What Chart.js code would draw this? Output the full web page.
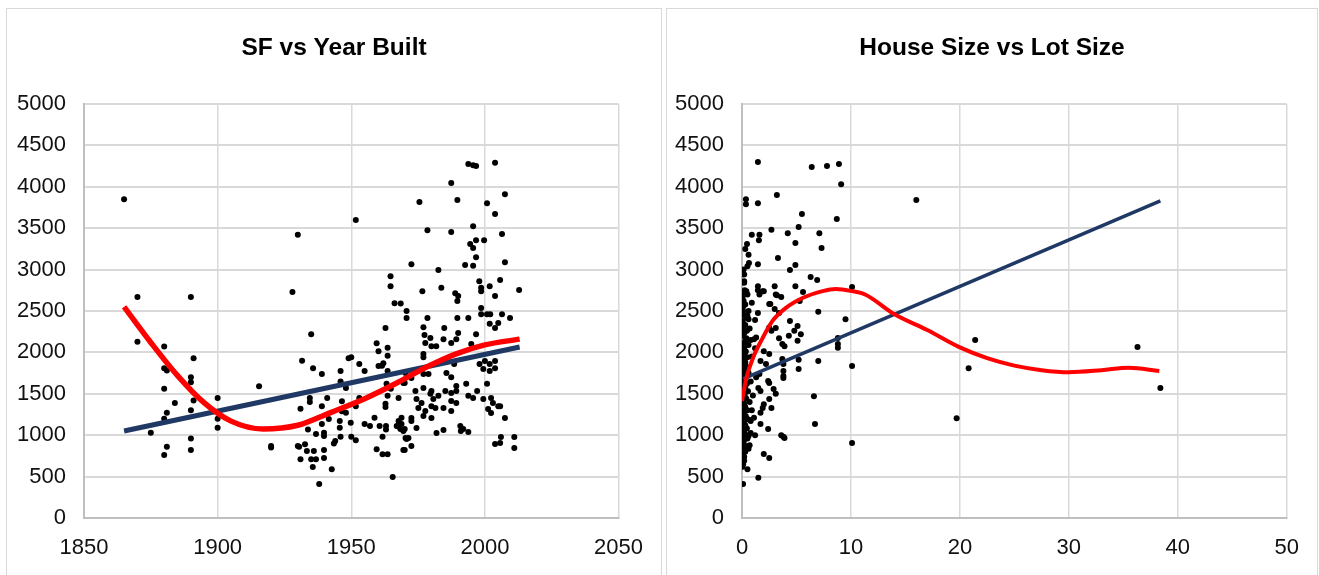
<!DOCTYPE html>
<html>
<head>
<meta charset="utf-8">
<title>SF vs Year Built / House Size vs Lot Size</title>
<script src="https://cdn.jsdelivr.net/npm/chart.js@4.4.1/dist/chart.umd.min.js"></script>
<style>
  body { margin: 0; background: #fff; width: 1319px; height: 575px; overflow: hidden; position: relative; }
  .panel { position: absolute; top: 8px; height: 600px; border: 1px solid #d9d9d9; box-sizing: border-box; }
  .box { position: absolute; left: 1px; top: 1px; height: 566px; }
</style>
</head>
<body>
<div class="panel" style="left:6px; width:656px;"><div class="box" style="width:652px;"><canvas id="yearChart"></canvas></div></div>
<div class="panel" style="left:666px; width:652px;"><div class="box" style="width:648px;"><canvas id="lotChart"></canvas></div></div>
<script>
// ---- data ----
const yTicks = [0, 500, 1000, 1500, 2000, 2500, 3000, 3500, 4000, 4500, 5000];
const yearTicks = [1850, 1900, 1950, 2000, 2050];
const lotTicks = [0, 10, 20, 30, 40, 50];

// [year built, square feet]
const yearPoints = [
  [1865,3850],[1870,2670],[1890,2670],[1928,2730],[1930,3420],
  [1870,2130],[1880,2070],[1880,1810],[1881,1780],[1880,1560],[1884,1390],[1881,1270],[1880,1200],[1875,1030],[1881,860],[1880,760],
  [1891,1930],[1890,1700],[1890,1640],[1891,1420],[1890,1300],[1890,960],[1890,820],
  [1900,1450],[1900,1200],[1900,1090],[1915.5,1590],[1920,870],[1920,850],
  [1935,2220],[1931.6,1900],[1935.7,1810],[1939,1740],[1946,1775],[1949,1930],[1950,1940],[1951.7,3600],[1953,1860],[1955,1775],
  [1946,1650],[1948,1570],[1934.5,1450],[1934.5,1400],[1941,1450],[1939,1350],[1931,1320],[1946.5,1410],[1946.5,1290],[1948,1270],
  [1951.7,1350],[1953,1450],[1933.8,1070],[1939,1135],[1941.6,1195],[1945.7,1170],[1945.7,1090],[1949.8,1150],[1936.8,1015],
  [1939.8,1030],[1939.8,990],[1946,980],[1950,980],[1951.7,940],[1944,930],[1943.5,900],[1930,870],[1930.5,860],[1932.7,890],
  [1933.4,810],[1936,810],[1939.8,820],[1939.8,725],[1931,710],[1935,710],[1936.8,710],[1935.6,615],[1942.7,590],[1938,410],
  [1958.7,1210],[1955,1135],[1957,1110],[1960.6,1110],[1963,1110],[1963,1070],[1961.7,980],[1959.5,830],[1961.7,770],[1963.6,770],
  [1965.5,495],[1967,1110],[1968,1100],[1970,1075],[1970,820],[1970.7,955],[1968.8,1210],[1967.7,1450],[1962.8,1340],[1962.8,1380],
  [1963.6,1475],[1964.8,1560],[1963.2,1620],[1963.6,1775],[1970,1630],[1959.5,2110],[1960.2,2015],[1963.6,2055],[1963.6,1960],
  [1962,1870],[1960.2,1835],[1961.5,1840],[1962.8,2295],[1964.7,2920],[1964.7,2800],[1966.2,2595],[1968.5,2590],[1970.7,2500],[1970.7,2415],
  [1993.8,4275],[1995.6,4260],[1996.7,4250],[2003.8,4290],[1987.4,4045],[1975.5,3815],[1989.7,3840],[2000.8,3800],[2007.5,3910],
  [2003.8,3670],[1978.5,3475],[1987.4,3455],[1995.6,3525],[2006.4,3430],[1994.5,3310],[1995.6,3260],[1996.7,3355],[1999.7,3355],
  [1996.7,3150],[1992.6,3055],[1995.6,3045],[2007.5,3090],[1972.5,3065],[1982.6,2995],[1983.7,2780],[1976.6,2740],[1988.9,2715],
  [1990,2680],[1989.7,2620],[1997.9,2860],[1998.6,2780],[1998.6,2740],[2001.8,2800],[2003.8,2680],[2005.7,2875],[2012.8,2755],
  [1977,2305],[1978.5,2415],[1989.7,2415],[1993.8,2415],[1998.6,2535],[1998.6,2460],[2000.8,2460],[2002,2460],[2001.8,2345],
  [2003.8,2295],[2005,2355],[2006.4,2460],[2009.4,2415],[1984.8,2295],[1996.7,2220],[1990,2235],[1989.3,2160],[1977.4,2210],
  [1979.6,2175],[1977.7,2115],[1980,2075],[1981.8,2075],[1984.5,2160],[1987.4,2115],[1994.9,2100],[1977,1980],[1977,1940],
  [1998,1860],[2000,1895],[2001.8,1860],[2003.8,1895],[1999.4,1800],[2001.8,1775],[2003.8,1810],[1988.5,1860],[1985.6,1750],
  [1987.4,1700],[1970.3,1750],[1972.5,1690],[1977,1740],[1978.9,1740],[1969.5,1630],[1974,1535],[1977,1570],[1980,1535],
  [1979.6,1500],[1982.6,1475],[1985.2,1535],[1987.4,1510],[1989.3,1535],[1989.3,1595],[1993,1620],[1993.8,1475],[1995.6,1450],
  [1997.1,1535],[2000.8,1620],[1999.4,1437],[2002.3,1450],[2003,1390],[2005,1350],[2001.2,1316],[2002.3,1268],[2005.7,1350],
  [2007.5,1208],[1974.4,1437],[1975.1,1330],[1976.3,1390],[1977.7,1292],[1980.7,1437],[1980,1350],[1981.5,1330],[1984.5,1330],
  [1987.4,1413],[1987.4,1292],[1989.3,1390],[1972.5,1208],[1972.5,1170],[1977,1232],[1980,1208],[1967.7,1170],[1968.8,1135],
  [1968.4,1075],[1969.5,1050],[1974.4,1087],[1981.9,1027],[1984.5,1063],[1990.8,1111],[1991.9,1075],[1993.8,1039],[1991,1050],
  [1970.3,966],[1971.4,966],[1972.5,870],[1969.5,821],[2003.8,894],[2005.7,906],[2006,978],[2011,978],[2011,845]
];
const yearLinear = [[1865,1050],[2013,2065]];
const yearPoly = [[1865,2550],[1875,2120],[1885,1720],[1895,1390],[1905,1170],[1917,1075],[1930,1120],[1942,1270],
  [1955,1440],[1967,1630],[1978,1820],[1989,1980],[2000,2090],[2013,2160]];

// [lot size, house square feet]
const lotPoints = [
  [1.46,4300],[6.4,4240],[7.8,4250],[8.9,4275],[9.1,4030],[16.0,3840],[0.36,3850],[0.36,3790],[1.46,3800],[3.2,3900],[5.5,3670],
  [8.7,3610],[5.2,3515],[2.7,3480],[4.2,3440],[7.1,3440],[0.9,3420],[1.6,3420],[0.46,3310],[1.55,3355],[4.9,3320],[7.3,3260],
  [3.3,3140],[0.64,3080],[0.5,3040],[1.46,3065],[4.9,3055],[4.4,2995],[6.3,2910],[6.9,2875],[10.1,2790],[0.2,2840],[0.25,2750],
  [0.5,2700],[0.15,2620],[1.46,2750],[1.9,2740],[3.0,2800],[3.2,2690],[3.6,2670],[4.9,2800],[5.6,2730],[5.3,2620],[2.6,2585],
  [3.0,2525],[3.4,2475],[1.46,2475],[7.0,2490],[9.5,2400],[0.5,2440],[0.6,2400],[1.2,2390],[4.4,2380],
  [0.4,2170],[0.8,2150],[1.1,2160],[1.3,2180],[2.5,2300],[2.7,2260],[3.1,2295],[3.4,2170],[3.7,2100],[3.9,2075],[4.3,2200],
  [4.8,2260],[5.1,2320],[5.4,2220],[5.1,2140],[7.0,1895],[5.2,1910],[8.8,2175],[8.8,2055],[10.1,1835],[10.1,905],[6.6,1470],
  [6.7,1135],[3.7,1920],[3.8,1860],[3.8,1690],[2.0,2015],[2.5,1980],[2.2,1860],[1.7,1895],[1.6,1740],[1.5,1570],[1.7,1535],
  [2.4,1655],[2.5,1630],[2.9,1558],[3.1,1500],[2.5,1437],[2.0,1375],[1.9,1330],[1.7,1270],[2.7,1330],[1.1,1210],[0.8,1170],
  [1.7,1135],[2.4,1075],[0.8,1027],[0.6,990],[3.6,1000],[3.8,980],[0.6,835],[2.0,773],[2.5,725],[0.5,590],[1.5,485],[0.1,410],
  [0.1,650],[0.2,690],[0.2,2860],[0.1,2700],[0.4,2740],[1.46,2800],[1.6,2700],[2.0,2740],[3.1,2700],[2.5,2585],[0.4,2415],
  [0.6,2500],[0.1,2500],[0.1,2350],[0.15,2290],[19.7,1205],[20.8,1810],[21.4,2150],[8.8,2100],[5.2,1800],[3.8,1775],[3.8,1715],
  [3.9,966],[36.3,2065],[38.4,1570],
  [0.05,620],[0.1,700],[0.2,740],[0.05,780],[0.3,800],[0.1,850],[0.4,870],[0.15,900],[0.05,930],[0.25,950],[0.5,960],[0.1,990],
  [0.3,1010],[0.05,1040],[0.2,1060],[0.45,1080],[0.1,1100],[0.3,1120],[0.05,1150],[0.2,1170],[0.6,1190],[0.1,1210],[0.35,1230],
  [0.05,1260],[0.2,1280],[0.5,1300],[0.1,1320],[0.3,1340],[0.05,1360],[0.2,1380],[0.7,1400],[0.1,1420],[0.4,1440],[0.05,1460],
  [0.25,1480],[0.15,1510],[0.55,1530],[0.05,1550],[0.3,1570],[0.1,1600],[0.45,1620],[0.2,1650],[0.05,1680],[0.35,1700],
  [0.1,1730],[0.6,1750],[0.2,1780],[0.05,1800],[0.4,1830],[0.15,1860],[0.3,1880],[0.05,1910],[0.5,1940],[0.2,1960],[0.1,1990],
  [0.35,2010],[0.05,2040],[0.25,2070],[0.6,2090],[0.1,2110],[0.3,2140],[0.05,2200],[0.2,2230],[0.45,2260],[0.1,2300],
  [0.3,2330],[0.05,2380],[0.2,2450],[0.1,2550],[0.3,2580],[0.05,2660],[0.7,2290],[0.9,1950],[0.8,1650],[1.0,1480],[0.9,1300],
  [1.2,1000],[0.7,880],[1.3,1700],[1.2,2050],[0.9,2600],[0.15,3000],[0.6,3180],[0.3,3250],[0.2,2940]
];
const lotLinear = [[0.1,1680],[38.4,3830]];
const lotPoly = [[0,1413],[0.4,1690],[1.0,1930],[1.9,2175],[2.8,2380],[4.0,2535],[5.6,2660],[7.4,2740],[8.6,2765],
  [10.1,2740],[11.3,2700],[14,2460],[17,2270],[20,2060],[22.5,1930],[25,1840],[27.5,1785],[30,1760],[33,1785],[35.5,1815],[38.3,1775]];

const FONT = '"Liberation Sans", Arial, sans-serif';
const toXY = (arr) => arr.map(p => ({ x: p[0], y: p[1] }));

const makeChart = (id, title, points, linear, poly, xTicks, opts) => {
  const fixTicks = (list) => (scale) => { scale.ticks = list.map(v => ({ value: v })); };
  return new Chart(document.getElementById(id), {
    type: 'scatter',
    data: {
      datasets: [
        { type: 'line', data: toXY(poly), borderColor: '#ff0000', borderWidth: opts.poly, pointRadius: 0,
          cubicInterpolationMode: 'monotone', fill: false, order: 0 },
        { type: 'line', data: toXY(linear), borderColor: '#1f3864', borderWidth: opts.lin, pointRadius: 0,
          fill: false, order: 1 },
        { data: toXY(points), backgroundColor: '#000', borderWidth: 0, pointRadius: 3, order: 2 }
      ]
    },
    options: {
      responsive: true,
      maintainAspectRatio: false,
      animation: false,
      devicePixelRatio: 1,
      layout: { padding: 0 },
      plugins: {
        legend: { display: false },
        tooltip: { enabled: false },
        title: {
          display: true, text: title, color: '#000',
          font: { family: FONT, size: 24.5, weight: 'bold', lineHeight: 1.2 },
          padding: { top: 24, bottom: 40.6 }
        }
      },
      scales: {
        x: {
          type: 'linear', min: xTicks[0], max: xTicks[xTicks.length - 1],
          afterBuildTicks: fixTicks(xTicks),
          afterFit: (s) => { s.height = 58; },
          grid: { color: '#d9d9d9', lineWidth: 1.5, drawTicks: false },
          border: { color: '#bfbfbf', width: 2 },
          ticks: { color: '#111', padding: 17, font: { family: FONT, size: 22 }, callback: (v) => String(v) }
        },
        y: {
          min: 0, max: 5000,
          afterBuildTicks: fixTicks(yTicks),
          afterFit: (s) => { s.width = opts.left; },
          grid: { color: '#d9d9d9', lineWidth: 2, drawTicks: false },
          border: { color: '#bfbfbf', width: 2 },
          ticks: { color: '#111', padding: 18, font: { family: FONT, size: 22 }, callback: (v) => String(v) }
        },
        // empty right-hand strip so the plot ends where the reference does
        yPad: {
          position: 'right', min: 0, max: 5000,
          grid: { display: false, drawOnChartArea: false },
          border: { display: false },
          ticks: { display: false },
          afterFit: (s) => { s.width = opts.right; }
        }
      }
    }
  });
};

makeChart('yearChart', 'SF vs Year Built', yearPoints, yearLinear, yearPoly, yearTicks,
  { lin: 5, poly: 5.5, left: 76, right: 39 });
makeChart('lotChart', 'House Size vs Lot Size', lotPoints, lotLinear, lotPoly, lotTicks,
  { lin: 3.5, poly: 4, left: 74, right: 27 });
</script>
</body>
</html>
